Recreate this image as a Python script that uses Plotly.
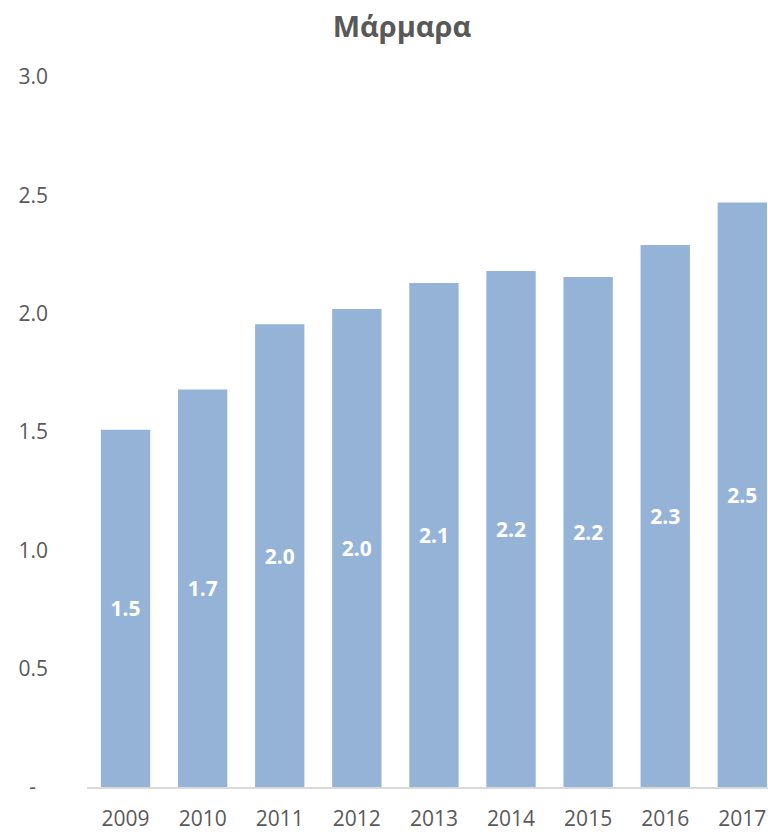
import plotly.graph_objects as go

years = ["2009", "2010", "2011", "2012", "2013", "2014", "2015", "2016", "2017"]
values = [1.51, 1.68, 1.955, 2.02, 2.13, 2.18, 2.155, 2.29, 2.47]
y_tickvals = [0, 0.5, 1.0, 1.5, 2.0, 2.5, 3.0]
y_ticktext = ["-\u2007", "0.5", "1.0", "1.5", "2.0", "2.5", "3.0"]
title = "Μάρμαρα"

font = "Open Sans, Liberation Sans, sans-serif"
grey = "#595959"

fig = go.Figure(go.Bar(
    x=years, y=values,
    marker=dict(color="#95B3D7", line=dict(width=0)),
    text=[f"{v:.1f}" for v in values],
    textposition="inside", insidetextanchor="middle",
    textfont=dict(family=font, size=21, color="white", weight="bold"),
    cliponaxis=False,
    hoverinfo="skip",
))

fig.update_layout(
    width=768, height=832,
    paper_bgcolor="white", plot_bgcolor="white",
    margin=dict(l=87, r=0, t=77, b=41),
    bargap=0.36,
    showlegend=False,
    title=dict(text=title, x=402/768, xanchor="center", y=1-27/832, yanchor="middle",
               font=dict(family=font, size=29, color=grey, weight="bold")),
    xaxis=dict(type="category", range=[-0.5, 8.333], showgrid=False,
               showline=True, linecolor="#D9D9D9", linewidth=1.5,
               ticks="", ticklabelstandoff=12,
               tickfont=dict(family=font, size=21, color=grey)),
    yaxis=dict(range=[0, 3.0], tickvals=y_tickvals, ticktext=y_ticktext,
               showgrid=False, zeroline=False, showline=False, ticks="",
               ticklabelstandoff=38,
               tickfont=dict(family=font, size=21, color=grey)),
    uniformtext=dict(mode=False),
)

fig.write_html(
    "out.html",
    config={"displayModeBar": False},
    post_script="document.body.style.margin='0';document.body.style.overflow='hidden';",
)
